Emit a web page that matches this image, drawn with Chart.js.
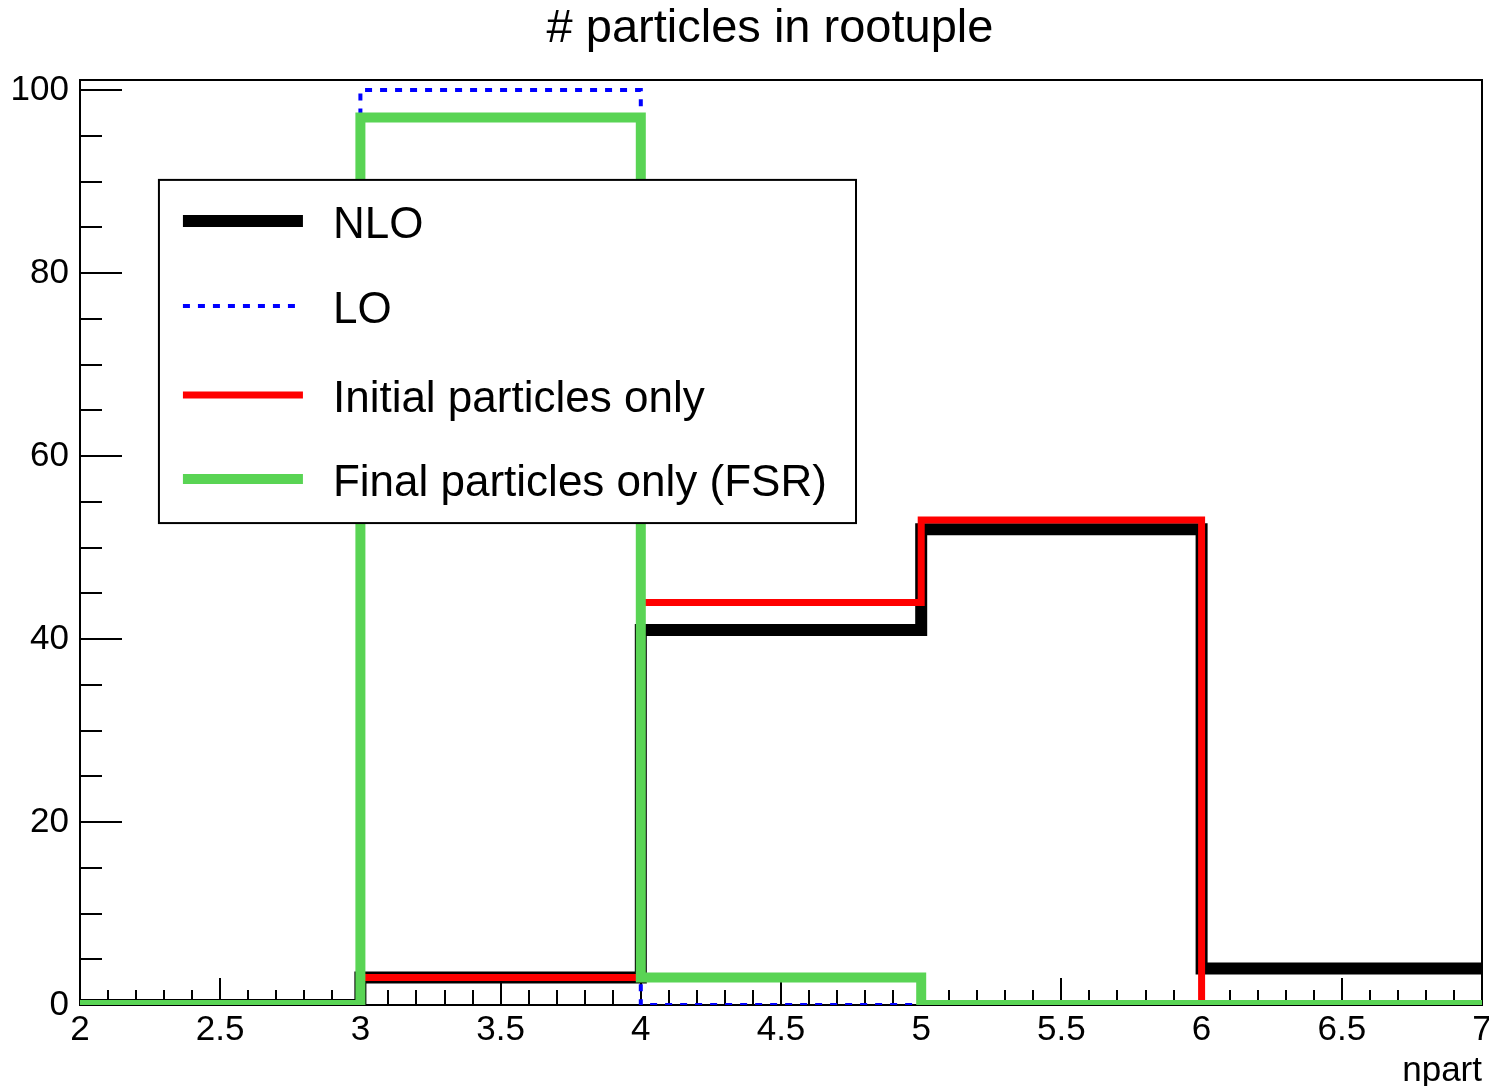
<!DOCTYPE html>
<html>
<head>
<meta charset="utf-8">
<title># particles in rootuple</title>
<script src="https://cdn.jsdelivr.net/npm/chart.js@4.4.1/dist/chart.umd.min.js"></script>
<style>
  html, body { margin: 0; padding: 0; background: #fff; }
  canvas { display: block; }
</style>
</head>
<body>
<canvas id="nparts" width="1489" height="1086"></canvas>
<script>
// histogram bins (npart), edges 2..7
const binEdges = [2, 3, 4, 5, 6, 7];
const nloCounts = [0, 3, 41, 52, 4];
const loCounts = [0, 100, 0, 0, 0];
const initialCounts = [0, 3, 44, 53, 0];
const finalCounts = [0, 97, 3, 0, 0];

const xMajorTicks = [2, 2.5, 3, 3.5, 4, 4.5, 5, 5.5, 6, 6.5, 7];
const yMajorTicks = [0, 20, 40, 60, 80, 100];

const FONT = '"Liberation Sans", Arial, Helvetica, sans-serif';
const GREEN = '#59d454';

// one point per left bin edge, last value repeated at the right edge
function toSteps(counts) {
    return binEdges.map((x, i) => ({ x: x, y: counts[Math.min(i, counts.length - 1)] }));
}

const datasets = [
    { label: 'NLO', data: toSteps(nloCounts), borderColor: '#000000', borderWidth: 12, order: 3 },
    { label: 'LO', data: toSteps(loCounts), borderColor: '#0000ff', borderWidth: 4, borderDash: [7, 8], order: 2 },
    { label: 'Initial particles only', data: toSteps(initialCounts), borderColor: '#ff0000', borderWidth: 7, order: 1 },
    { label: 'Final particles only (FSR)', data: toSteps(finalCounts), borderColor: GREEN, borderWidth: 10, order: 0 }
].map(ds => Object.assign({
    stepped: true,
    pointRadius: 0,
    fill: false,
    borderCapStyle: 'butt',
    borderJoinStyle: 'miter'
}, ds));

// ROOT style frame with ticks on the inside
const rootFrame = {
    id: 'rootFrame',
    beforeDatasetsDraw(chart) {
        const { ctx, chartArea: a, scales } = chart;
        const x = scales.x, y = scales.y;
        ctx.save();
        ctx.strokeStyle = '#000';
        ctx.lineWidth = 2;
        ctx.strokeRect(a.left, a.top, a.right - a.left, a.bottom - a.top);

        ctx.beginPath();
        for (let v = 0; v <= 100.001; v += 5) {
            const py = Math.round(y.getPixelForValue(v));
            const len = yMajorTicks.includes(Math.round(v)) ? 42 : 22;
            ctx.moveTo(a.left, py);
            ctx.lineTo(a.left + len, py);
        }
        for (let i = 0; i <= 50; i++) {
            const px = Math.round(x.getPixelForValue(2 + i / 10));
            const len = i % 5 === 0 ? 27 : 15;
            ctx.moveTo(px, a.bottom);
            ctx.lineTo(px, a.bottom - len);
        }
        ctx.stroke();
        ctx.restore();
    },
    afterDraw(chart) {
        const { ctx, chartArea: a } = chart;
        ctx.save();
        // title
        ctx.fillStyle = '#000';
        ctx.font = '47px ' + FONT;
        ctx.textAlign = 'center';
        ctx.textBaseline = 'middle';
        ctx.fillText('# particles in rootuple', 770, 29);

        // legend box
        const w = a.right - a.left, h = a.bottom - a.top;
        const bx1 = a.left + 0.0563 * w, bx2 = a.left + 0.5535 * w;
        const by1 = a.top + 0.108 * h, by2 = a.top + 0.479 * h;
        ctx.fillStyle = '#fff';
        ctx.fillRect(bx1, by1, bx2 - bx1, by2 - by1);
        ctx.strokeStyle = '#000';
        ctx.lineWidth = 2;
        ctx.strokeRect(bx1, by1, bx2 - bx1, by2 - by1);

        const rows = [41, 126, 215, 299];
        ctx.font = '44px ' + FONT;
        ctx.textAlign = 'left';
        chart.data.datasets.forEach((ds, i) => {
            const ry = by1 + rows[i];
            ctx.beginPath();
            ctx.strokeStyle = ds.borderColor;
            ctx.lineWidth = ds.borderWidth;
            ctx.setLineDash(ds.borderDash || []);
            ctx.moveTo(bx1 + 24, ry);
            ctx.lineTo(bx1 + 144, ry);
            ctx.stroke();
            ctx.setLineDash([]);
            ctx.fillStyle = '#000';
            ctx.fillText(ds.label, bx1 + 174, ry + 5);
        });
        ctx.restore();
    }
};

new Chart(document.getElementById('nparts'), {
    type: 'line',
    data: { datasets: datasets },
    options: {
        responsive: false,
        animation: false,
        devicePixelRatio: 1,
        layout: { padding: { top: 80, right: 7, left: 0, bottom: 0 } },
        plugins: {
            legend: { display: false },
            tooltip: { enabled: false },
            title: { display: false }
        },
        scales: {
            x: {
                type: 'linear',
                min: 2,
                max: 7,
                afterBuildTicks: s => { s.ticks = xMajorTicks.map(v => ({ value: v })); },
                afterFit: s => {
                    s.height = 81;
                    s.paddingLeft = 0;
                    s.paddingRight = 0;
                },
                grid: { display: false, drawTicks: false },
                border: { display: false },
                ticks: {
                    color: '#000',
                    font: { family: FONT, size: 35 },
                    padding: 4,
                    maxRotation: 0,
                    autoSkip: false,
                    callback: v => String(v)
                },
                title: {
                    display: true,
                    text: 'npart',
                    align: 'end',
                    color: '#000',
                    font: { family: FONT, size: 35 },
                    padding: { top: 0, bottom: -6 }
                }
            },
            y: {
                min: 0,
                max: 101.1,
                afterBuildTicks: s => { s.ticks = yMajorTicks.map(v => ({ value: v })); },
                afterFit: s => {
                    s.width = 80;
                    s.paddingTop = 0;
                    s.paddingBottom = 0;
                },
                grid: { display: false, drawTicks: false },
                border: { display: false },
                ticks: {
                    color: '#000',
                    font: { family: FONT, size: 35 },
                    padding: 11
                }
            }
        }
    },
    plugins: [rootFrame]
});
</script>
</body>
</html>
